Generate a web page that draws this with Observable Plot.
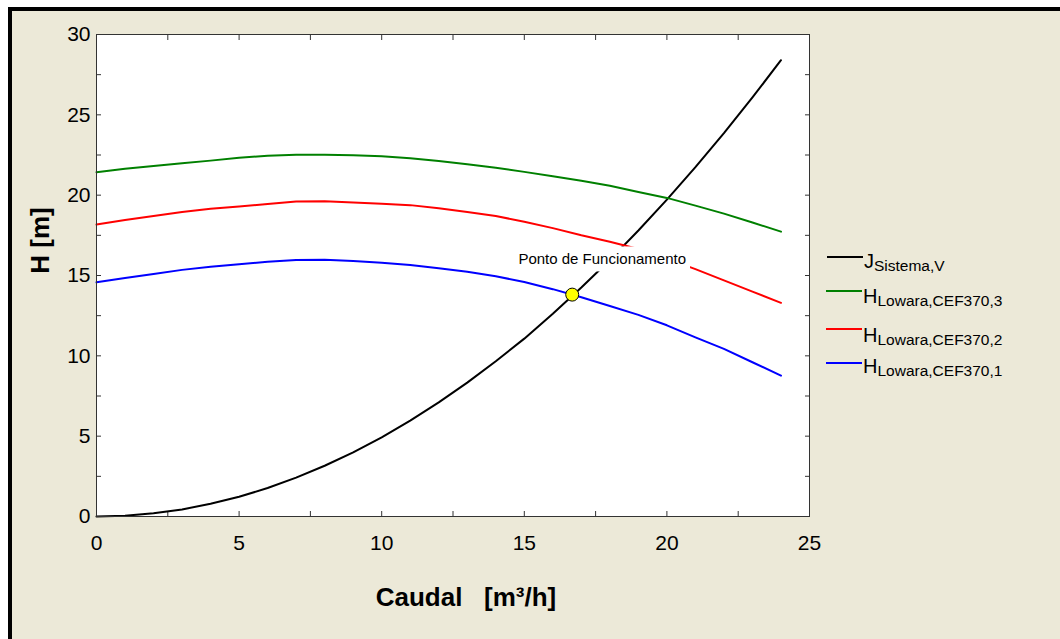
<!DOCTYPE html>
<html><head><meta charset="utf-8">
<script src="https://cdn.jsdelivr.net/npm/d3@7"></script>
<script src="https://cdn.jsdelivr.net/npm/@observablehq/plot@0.6"></script>
<style>
html,body{margin:0;padding:0;background:#fff;width:1060px;height:639px;overflow:hidden;font-family:"Liberation Sans",Arial,sans-serif;}
#panel{position:absolute;left:8px;top:7px;width:1048px;height:628px;border-left:4px solid #000;border-top:4px solid #000;background:#ECE9D8;}
#chart{position:absolute;left:0;top:0;}
.leg-sw{position:absolute;height:2px;width:36px;}
.leg-tx{position:absolute;font-size:20px;line-height:20px;white-space:nowrap;color:#000;}
.leg-tx sub{font-size:15.5px;line-height:0;vertical-align:baseline;position:relative;top:3px;}
</style></head>
<body><div id="panel"><div id="chart"></div><div id="legend"></div></div>
<script>
// Flow rate Q [m3/h]
const caudal = [0,1,2,3,4,5,6,7,8,9,10,11,12,13,14,15,16,17,18,19,20,21,22,23,24];
// System curve J (head loss)
const jSistema = [0,0.05,0.20,0.44,0.79,1.23,1.77,2.42,3.16,3.99,4.93,5.97,7.10,8.33,9.66,11.07,12.62,14.25,15.97,17.80,19.72,21.74,23.86,26.08,28.40];
// Pump curves Lowara CEF370, 3 / 2 / 1
const hCef3 = [21.43,21.65,21.82,21.98,22.15,22.33,22.45,22.52,22.52,22.48,22.42,22.30,22.12,21.92,21.70,21.45,21.18,20.90,20.58,20.20,19.83,19.35,18.85,18.30,17.73];
const hCef2 = [18.17,18.45,18.70,18.95,19.15,19.30,19.45,19.60,19.62,19.55,19.47,19.38,19.18,18.95,18.70,18.35,17.95,17.50,17.10,16.65,16.05,15.40,14.70,14.00,13.30];
const hCef1 = [14.58,14.85,15.10,15.35,15.55,15.70,15.85,15.97,15.98,15.90,15.80,15.65,15.45,15.23,14.95,14.60,14.15,13.65,13.10,12.55,11.90,11.15,10.43,9.60,8.77];
// Operating point
const pontoQ = [16.68];
const pontoH = [13.81];
const pontoLabel = ["Ponto de Funcionamento"];
// Series keys, colors, legend labels
const seriesKeys = ["J", "H3", "H2", "H1"];
const seriesColors = ["#000000", "#008000", "#ff0000", "#0000ff"];
const legendMain = ["J", "H", "H", "H"];
const legendSub = ["Sistema,V", "Lowara,CEF370,3", "Lowara,CEF370,2", "Lowara,CEF370,1"];
// Ticks
const xTicks = [0,5,10,15,20,25];
const yTicks = [0,5,10,15,20,25,30];
const xMinor = [0,2.5,5,7.5,10,12.5,15,17.5,20,22.5,25];
const yMinor = [0,2.5,5,7.5,10,12.5,15,17.5,20,22.5,25,27.5,30];
const xLabel = "Caudal\u00a0\u00a0\u00a0[m\u00b3/h]";
const yLabel = "H [m]";

const seriesValues = [jSistema, hCef3, hCef2, hCef1];
const rows = seriesKeys.flatMap((k, s) => caudal.map((q, i) => ({q, h: seriesValues[s][i], key: k})));
const ponto = pontoQ.map((q, i) => ({q, h: pontoH[i], label: pontoLabel[i]}));

const font = "'Liberation Sans', Arial, sans-serif";
const tickOpts = {tickFormat: () => "", label: null, stroke: "#333", tickSize: -5};

const plot = Plot.plot({
  width: 1048, height: 628,
  marginLeft: 84, marginTop: 23, marginRight: 251, marginBottom: 123,
  style: {background: "transparent", fontFamily: font, color: "#000", overflow: "visible"},
  x: {domain: [0, 25]},
  y: {domain: [0, 30]},
  color: {domain: seriesKeys, range: seriesColors},
  marks: [
    Plot.frame({fill: "#fff"}),
    Plot.axisX({...tickOpts, ticks: xMinor, anchor: "bottom"}),
    Plot.axisX({...tickOpts, ticks: xMinor, anchor: "top"}),
    Plot.axisY({...tickOpts, ticks: yMinor, anchor: "left"}),
    Plot.axisY({...tickOpts, ticks: yMinor, anchor: "right"}),
    Plot.axisX({ticks: xTicks, tickSize: 0, tickPadding: 19, fontSize: 21, label: null, anchor: "bottom"}),
    Plot.axisY({ticks: yTicks, tickSize: 0, tickPadding: 6, fontSize: 21, label: null, anchor: "left"}),
    Plot.line(rows, {x: "q", y: "h", z: "key", stroke: "key", strokeWidth: 2}),
    Plot.text(ponto, {x: "q", y: "h", text: "label", dx: 30, dy: -35, fontSize: 15, fill: "#000", ariaDescription: "anno"}),
    Plot.dot(ponto, {x: "q", y: "h", r: 6.5, fill: "#ffff00", stroke: "#000", strokeWidth: 1}),
    Plot.frame({stroke: "#333"}),
    Plot.text([yLabel], {text: d => d, frameAnchor: "left", textAnchor: "middle", lineAnchor: "middle", dx: -56, dy: -35, rotate: -90, fontSize: 26, fontWeight: "bold"}),
    Plot.text([xLabel], {text: d => d, frameAnchor: "bottom", textAnchor: "middle", lineAnchor: "middle", dx: 13, dy: 81, fontSize: 26, fontWeight: "bold"})
  ]
});
document.getElementById("chart").appendChild(plot);

// white box behind the annotation label
const ag = plot.querySelector('g[aria-description="anno"]');
if (ag) {
  ag.querySelectorAll("text").forEach(t => {
    const bb = t.getBBox();
    const pad = 4;
    const r = document.createElementNS("http://www.w3.org/2000/svg", "rect");
    r.setAttribute("x", bb.x - pad);
    r.setAttribute("y", bb.y - pad);
    r.setAttribute("width", bb.width + 2 * pad);
    r.setAttribute("height", bb.height + 2 * pad);
    r.setAttribute("fill", "#fff");
    r.setAttribute("stroke", "none");
    if (t.getAttribute("transform")) r.setAttribute("transform", t.getAttribute("transform"));
    t.parentNode.insertBefore(r, t);
  });
}

// legend (layout positions in panel pixels)
const legLayout = [
  {swLeft: 815, swTop: 245, txLeft: 852, txTop: 240},
  {swLeft: 814, swTop: 279, txLeft: 851, txTop: 275},
  {swLeft: 814, swTop: 317, txLeft: 851, txTop: 314},
  {swLeft: 814, swTop: 351, txLeft: 851, txTop: 345}
];
const legend = document.getElementById("legend");
seriesKeys.forEach((k, i) => {
  const L = legLayout[i];
  const sw = document.createElement("div");
  sw.className = "leg-sw";
  sw.style.left = L.swLeft + "px"; sw.style.top = L.swTop + "px";
  sw.style.background = seriesColors[i];
  legend.appendChild(sw);
  const tx = document.createElement("div");
  tx.className = "leg-tx";
  tx.style.left = L.txLeft + "px"; tx.style.top = L.txTop + "px";
  tx.textContent = legendMain[i];
  const sub = document.createElement("sub");
  sub.textContent = legendSub[i];
  tx.appendChild(sub);
  legend.appendChild(tx);
});
</script></body></html>
